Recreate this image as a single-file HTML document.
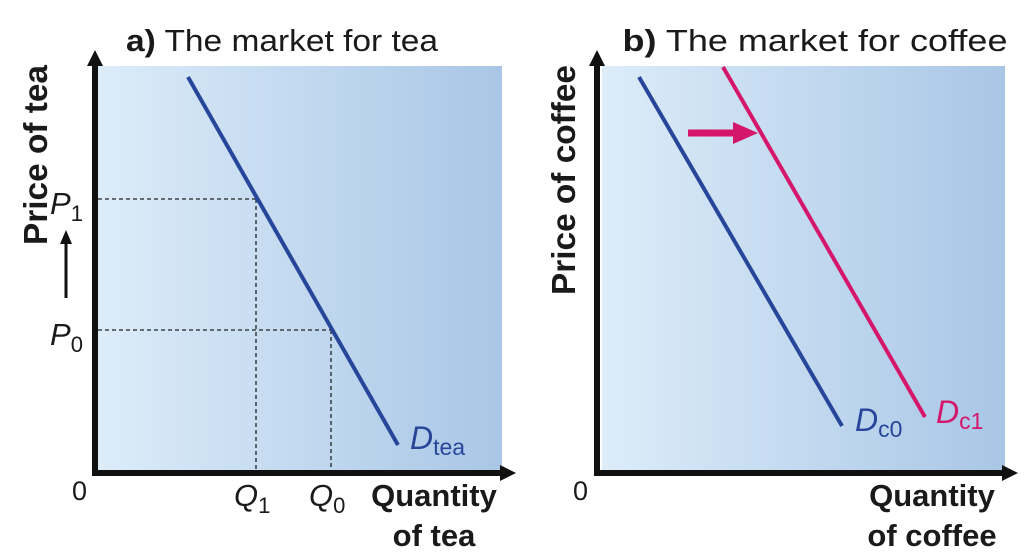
<!DOCTYPE html>
<html><head><meta charset="utf-8"><style>
html,body{margin:0;padding:0;background:#fff;}
svg{display:block;font-family:"Liberation Sans",sans-serif;}
</style></head><body>
<svg width="1024" height="560" viewBox="0 0 1024 560" xmlns="http://www.w3.org/2000/svg">
<defs>
<linearGradient id="g" x1="0" x2="1" y1="0" y2="0">
<stop offset="0" stop-color="#dcecf9"/><stop offset="1" stop-color="#a9c6e6"/>
</linearGradient>
</defs>
<!-- Panel a -->
<rect x="98" y="66" width="404" height="405" fill="url(#g)"/>
<text x="282" y="51" font-size="31" text-anchor="middle" fill="#1a1a1a" textLength="312" lengthAdjust="spacingAndGlyphs"><tspan font-weight="bold">a)</tspan> The market for tea</text>
<line x1="98" y1="199" x2="256" y2="199" stroke="#222" stroke-width="1.3" stroke-dasharray="4,3"/>
<line x1="98" y1="330" x2="331" y2="330" stroke="#222" stroke-width="1.3" stroke-dasharray="4,3"/>
<line x1="256" y1="199" x2="256" y2="471" stroke="#222" stroke-width="1.3" stroke-dasharray="4,3"/>
<line x1="331" y1="330" x2="331" y2="471" stroke="#222" stroke-width="1.3" stroke-dasharray="4,3"/>
<line x1="188" y1="77" x2="398" y2="445" stroke="#27469a" stroke-width="4"/>
<line x1="95" y1="476" x2="95" y2="62" stroke="#111" stroke-width="6"/>
<polygon points="95,50 87,66 103,66" fill="#111"/>
<line x1="92" y1="473" x2="503" y2="473" stroke="#111" stroke-width="6"/>
<polygon points="516,473 500,465 500,481" fill="#111"/>
<text transform="translate(47,155) rotate(-90)" font-size="33" font-weight="bold" text-anchor="middle" fill="#1a1a1a" textLength="180" lengthAdjust="spacingAndGlyphs">Price of tea</text>
<line x1="66" y1="298" x2="66" y2="240" stroke="#111" stroke-width="3"/>
<polygon points="66,230 60,244 72,244" fill="#111"/>
<text x="50" y="214" font-size="31" font-style="italic" fill="#1a1a1a">P<tspan font-style="normal" font-size="22" dy="7">1</tspan></text>
<text x="50" y="345" font-size="31" font-style="italic" fill="#1a1a1a">P<tspan font-style="normal" font-size="22" dy="7">0</tspan></text>
<text x="72" y="500" font-size="27" fill="#1a1a1a">0</text>
<text x="234" y="506" font-size="31" font-style="italic" fill="#1a1a1a">Q<tspan font-style="normal" font-size="22" dy="7">1</tspan></text>
<text x="309" y="506" font-size="31" font-style="italic" fill="#1a1a1a">Q<tspan font-style="normal" font-size="22" dy="7">0</tspan></text>
<text x="434" y="506" font-size="31" font-weight="bold" text-anchor="middle" fill="#1a1a1a">Quantity</text>
<text x="434" y="546" font-size="31" font-weight="bold" text-anchor="middle" fill="#1a1a1a">of tea</text>
<text x="410" y="449" font-size="32" font-style="italic" fill="#27469a">D<tspan font-style="normal" font-size="23" dy="6">tea</tspan></text>
<!-- Panel b -->
<rect x="602" y="66" width="403" height="405" fill="url(#g)"/>
<text x="815" y="51" font-size="31" text-anchor="middle" fill="#1a1a1a" textLength="385" lengthAdjust="spacingAndGlyphs"><tspan font-weight="bold">b)</tspan> The market for coffee</text>
<line x1="639" y1="77" x2="842" y2="426" stroke="#27469a" stroke-width="4"/>
<line x1="723" y1="67" x2="925" y2="417" stroke="#d5176b" stroke-width="4"/>
<line x1="688" y1="133" x2="738" y2="133" stroke="#d5176b" stroke-width="7"/>
<polygon points="758,133 733,122 733,144" fill="#d5176b"/>
<line x1="597" y1="476" x2="597" y2="62" stroke="#111" stroke-width="6"/>
<polygon points="597,50 589,66 605,66" fill="#111"/>
<line x1="594" y1="473" x2="1005" y2="473" stroke="#111" stroke-width="6"/>
<polygon points="1018,473 1002,465 1002,481" fill="#111"/>
<text transform="translate(575,180) rotate(-90)" font-size="33" font-weight="bold" text-anchor="middle" fill="#1a1a1a" textLength="230" lengthAdjust="spacingAndGlyphs">Price of coffee</text>
<text x="573" y="500" font-size="27" fill="#1a1a1a">0</text>
<text x="932" y="506" font-size="31" font-weight="bold" text-anchor="middle" fill="#1a1a1a">Quantity</text>
<text x="932" y="546" font-size="31" font-weight="bold" text-anchor="middle" fill="#1a1a1a">of coffee</text>
<text x="855" y="431" font-size="32" font-style="italic" fill="#27469a">D<tspan font-style="normal" font-size="23" dy="6">c0</tspan></text>
<text x="936" y="423" font-size="32" font-style="italic" fill="#d5176b">D<tspan font-style="normal" font-size="23" dy="6">c1</tspan></text>
</svg>
</body></html>
